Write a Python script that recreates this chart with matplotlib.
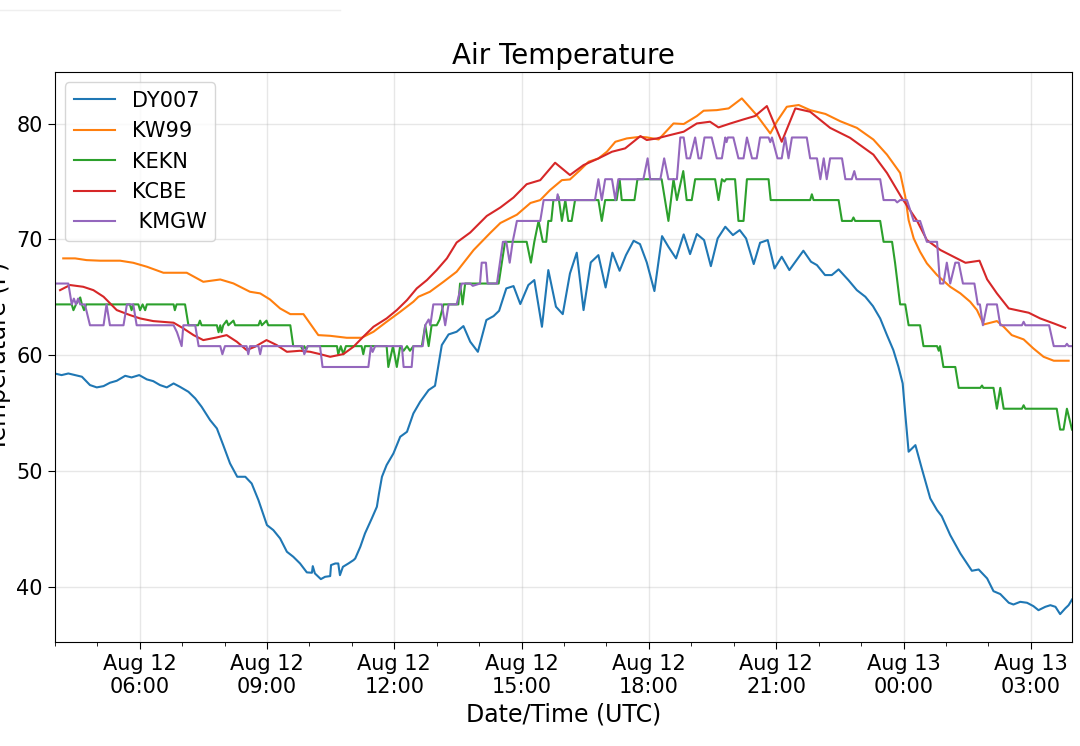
import matplotlib
matplotlib.use("Agg")
import matplotlib.pyplot as plt
import matplotlib.dates as mdates
from matplotlib.lines import Line2D
from datetime import datetime, timedelta

# ---- data: (hours since Aug 12 00:00 UTC, temperature F) ----
dy007 = [(4.00,58.44),(4.16,58.30),(4.32,58.44),(4.48,58.30),(4.64,58.16),(4.83,57.44),(4.99,57.24),(5.15,57.35),
         (5.30,57.64),(5.46,57.81),(5.66,58.24),(5.81,58.10),(5.99,58.30),(6.17,57.93),(6.32,57.78),(6.48,57.44),
         (6.64,57.24),(6.80,57.58),(6.95,57.29),(7.15,56.86),(7.31,56.29),(7.46,55.57),(7.66,54.42),(7.82,53.70),
         (7.97,52.26),(8.13,50.68),(8.30,49.53),(8.49,49.53),(8.64,48.95),(8.80,47.51),(9.00,45.36),(9.15,44.93),
         (9.31,44.21),(9.47,43.06),(9.62,42.63),(9.78,42.05),(9.94,41.28),(10.06,41.25),(10.08,41.82),(10.13,41.19),
         (10.27,40.70),(10.37,40.90),(10.49,40.96),(10.51,41.91),(10.61,42.05),(10.68,42.05),(10.72,41.04),(10.79,41.76),
         (10.92,42.05),(11.04,42.34),(11.08,42.48),(11.20,43.49),(11.31,44.64),(11.47,45.93),(11.59,46.94),(11.64,48.09),
         (11.71,49.53),(11.82,50.54),(11.98,51.54),(12.14,52.98),(12.30,53.41),(12.45,54.99),(12.61,56.00),(12.81,57.01),
         (12.96,57.38),(13.12,60.89),(13.28,61.81),(13.47,62.04),(13.63,62.53),(13.79,61.18),(13.97,60.31),(14.17,63.05),
         (14.34,63.39),(14.47,63.85),(14.64,65.78),(14.81,65.98),(14.97,64.43),(15.16,66.07),(15.30,66.50),(15.48,62.47),
         (15.63,67.36),(15.81,64.20),(15.97,63.56),(16.14,67.07),(16.30,68.86),(16.46,63.91),(16.63,68.02),(16.81,68.65),
         (16.98,65.86),(17.14,68.86),(17.31,67.30),(17.46,68.65),(17.64,69.89),(17.79,69.60),(17.95,68.02),(18.13,65.55),
         (18.31,70.29),(18.46,69.37),(18.64,68.37),(18.82,70.44),(18.97,68.74),(19.13,70.47),(19.30,69.95),(19.46,67.70),
         (19.62,70.09),(19.80,71.10),(19.98,70.38),(20.14,70.81),(20.29,70.09),(20.47,67.88),(20.62,69.72),(20.80,69.95),
         (20.96,67.50),(21.13,68.51),(21.31,67.36),(21.64,69.03),(21.82,68.08),(21.96,67.79),(22.15,66.93),(22.31,66.93),
         (22.47,67.42),(22.70,66.50),(22.90,65.63),(23.10,65.06),(23.28,64.25),(23.45,63.19),(23.61,61.75),(23.76,60.46),
         (23.88,59.02),(23.98,57.58),(24.04,54.99),(24.12,51.69),(24.28,52.26),(24.43,50.25),(24.63,47.66),(24.79,46.65),
         (24.90,46.13),(25.10,44.50),(25.34,42.91),(25.61,41.42),(25.77,41.53),(25.97,40.76),(26.12,39.66),(26.28,39.41),
         (26.48,38.66),(26.59,38.51),(26.75,38.74),(26.91,38.66),(27.06,38.37),(27.18,38.02),(27.34,38.31),(27.46,38.45),
         (27.58,38.31),(27.69,37.68),(27.81,38.17),(27.89,38.45),(27.97,38.94)]

kw99 = [(4.20,68.37),(4.48,68.37),(4.75,68.22),(5.07,68.17),(5.54,68.17),(5.85,67.99),(6.17,67.65),(6.56,67.13),
        (7.11,67.13),(7.50,66.35),(7.90,66.55),(8.21,66.21),(8.60,65.49),(8.84,65.35),(9.07,64.83),(9.31,64.05),
        (9.55,63.56),(9.86,63.56),(10.21,61.75),(10.49,61.69),(10.88,61.52),(11.23,61.52),(11.51,62.04),(11.82,62.90),
        (12.14,63.76),(12.45,64.63),(12.57,65.06),(12.84,65.49),(13.16,66.35),(13.47,67.22),(13.87,69.09),(14.26,70.56),
        (14.50,71.42),(14.89,72.14),(15.21,73.15),(15.44,73.40),(15.67,74.26),(15.95,75.12),(16.14,75.18),(16.38,75.99),
        (16.58,76.71),(16.81,76.99),(17.01,77.57),(17.21,78.43),(17.48,78.72),(17.80,78.86),(17.95,78.81),(18.23,78.63),
        (18.58,80.01),(18.82,79.96),(19.13,80.65),(19.29,81.11),(19.60,81.16),(19.88,81.31),(20.19,82.17),(20.54,80.73),
        (20.86,79.15),(21.02,80.20),(21.25,81.45),(21.53,81.60),(21.80,81.16),(22.16,80.83),(22.51,80.20),(22.90,79.63),
        (23.29,78.62),(23.61,77.32),(23.92,75.74),(24.04,73.72),(24.12,71.67),(24.24,70.09),(24.39,68.94),(24.55,67.94),
        (24.79,66.93),(25.10,65.92),(25.34,65.35),(25.57,64.63),(25.73,63.91),(25.89,62.67),(26.20,62.96),(26.36,62.47),
        (26.55,61.75),(26.83,61.38),(27.06,60.60),(27.30,59.88),(27.54,59.54),(27.89,59.54)]

kekn = [(4.01,64.4),(4.40,64.4),(4.44,63.9),(4.50,64.4),(4.60,65.0),(4.64,64.4),(4.69,63.9),(4.74,64.4),(5.77,64.4),
        (5.81,63.9),(5.85,64.4),(5.97,64.4),(6.01,63.9),(6.07,64.4),(6.13,63.9),(6.17,64.4),(6.80,64.4),(6.83,63.9),
        (6.87,64.4),(7.07,64.4),(7.15,62.6),(7.38,62.6),(7.42,63.0),(7.46,62.6),(7.82,62.6),(7.86,62.0),(7.90,62.6),
        (7.93,62.0),(7.97,62.6),(8.05,63.0),(8.09,62.6),(8.21,63.0),(8.25,62.6),(8.80,62.6),(8.84,63.0),(8.88,62.6),
        (8.99,63.0),(9.03,62.6),(9.55,62.6),(9.62,60.8),(9.80,60.8),(9.84,60.5),(9.88,60.8),(9.92,60.5),(9.96,60.8),
        (10.65,60.8),(10.68,60.1),(10.74,60.8),(10.80,60.1),(10.86,60.8),(11.23,60.8),(11.27,60.1),(11.31,60.8),
        (11.82,60.8),(11.86,59.0),(11.97,60.8),(12.06,59.0),(12.14,60.8),(12.22,60.4),(12.30,60.8),(12.37,60.4),
        (12.45,60.8),(12.65,60.8),(12.73,62.6),(12.81,60.8),(12.88,62.6),(13.00,62.6),(13.07,63.1),(13.16,64.4),
        (13.51,64.4),(13.55,66.2),(13.61,64.4),(13.67,66.2),(14.46,66.2),(14.61,69.8),(15.12,69.8),(15.22,68.0),
        (15.30,69.8),(15.40,71.6),(15.50,69.8),(15.58,69.8),(15.63,71.6),(15.70,71.6),(15.75,73.4),(15.83,73.4),
        (15.87,73.7),(15.95,71.6),(16.03,73.4),(16.10,71.6),(16.18,71.6),(16.26,73.4),(16.81,73.4),(16.89,71.6),
        (16.97,73.4),(17.24,73.4),(17.31,75.2),(17.36,73.4),(17.66,73.4),(17.73,75.2),(18.30,75.2),(18.46,71.6),
        (18.58,75.2),(18.66,73.4),(18.81,75.9),(18.89,73.4),(19.01,73.4),(19.09,75.2),(19.56,75.2),(19.64,73.4),
        (19.72,75.2),(19.78,75.0),(19.82,75.2),(20.03,75.2),(20.11,71.6),(20.23,71.6),(20.31,75.2),(20.82,75.2),
        (20.87,73.4),(21.80,73.4),(21.84,73.9),(21.88,73.4),(22.47,73.4),(22.55,71.6),(22.78,71.6),(22.82,71.9),
        (22.86,71.6),(23.45,71.6),(23.53,69.8),(23.73,69.8),(23.80,68.0),(23.86,66.2),(23.92,64.4),(24.04,64.4),
        (24.12,62.6),(24.39,62.6),(24.47,60.8),(24.79,60.8),(24.83,60.4),(24.86,60.8),(24.94,59.0),(25.22,59.0),
        (25.30,57.2),(25.81,57.2),(25.85,57.4),(25.88,57.2),(26.12,57.2),(26.20,55.4),(26.28,57.2),(26.36,55.4),
        (26.79,55.4),(26.83,55.7),(26.87,55.4),(27.61,55.4),(27.69,53.6),(27.77,53.6),(27.85,55.4),(27.97,53.6)]

kcbe = [(4.125,65.63),(4.36,66.07),(4.67,65.92),(4.91,65.63),(5.15,65.06),(5.46,63.91),(5.77,63.48),(6.01,63.19),
        (6.32,62.96),(6.80,62.82),(7.03,62.33),(7.27,61.75),(7.50,61.32),(7.82,61.55),(8.05,61.75),(8.29,61.18),
        (8.52,60.46),(8.72,60.75),(8.99,61.32),(9.23,60.89),(9.47,60.31),(9.78,60.40),(10.02,60.31),(10.25,60.11),
        (10.49,59.88),(10.80,60.11),(11.04,60.75),(11.27,61.61),(11.51,62.47),(11.82,63.19),(12.06,63.91),(12.30,64.77),
        (12.53,65.78),(12.77,66.50),(13.00,67.36),(13.24,68.37),(13.47,69.74),(13.79,70.60),(14.18,72.03),(14.50,72.76),
        (14.81,73.62),(15.12,74.77),(15.44,75.12),(15.79,76.62),(16.14,75.56),(16.46,76.42),(16.81,76.99),(17.13,77.57),
        (17.44,77.86),(17.80,78.92),(17.95,78.58),(18.19,78.72),(18.50,79.01),(18.82,79.30),(19.13,80.01),(19.44,80.16),
        (19.64,79.67),(19.92,80.01),(20.23,80.36),(20.50,80.65),(20.78,81.51),(21.13,78.43),(21.45,81.31),(21.80,81.02),
        (22.27,79.63),(22.74,78.77),(23.29,77.32),(23.61,75.74),(23.96,73.58),(24.31,71.67),(24.55,69.95),(24.87,69.09),
        (25.18,68.51),(25.46,67.99),(25.79,68.17),(25.97,66.56),(26.20,65.35),(26.48,64.05),(26.95,63.68),(27.22,63.19),
        (27.54,62.76),(27.81,62.38)]

kmgw = [(4.01,66.2),(4.32,66.2),(4.40,64.4),(4.45,64.9),(4.50,64.4),(4.55,64.9),(4.60,64.4),(4.71,64.4),(4.83,62.6),
        (5.15,62.6),(5.22,64.4),(5.30,62.6),(5.62,62.6),(5.70,64.4),(5.85,64.4),(5.93,62.6),(6.80,62.6),(6.88,62.0),
        (6.99,60.8),(7.03,62.6),(7.31,62.6),(7.39,60.8),(7.90,60.8),(7.95,60.1),(8.01,60.8),(8.52,60.8),(8.56,60.1),
        (8.60,60.8),(8.80,60.8),(8.84,60.1),(8.88,60.8),(9.84,60.8),(9.88,60.1),(9.96,60.8),(10.25,60.8),(10.31,59.0),
        (11.39,59.0),(11.45,60.8),(11.49,60.3),(11.55,60.8),(12.18,60.8),(12.22,59.0),(12.41,59.0),(12.45,60.8),
        (12.67,60.8),(12.73,62.6),(12.81,63.1),(12.85,62.6),(12.92,64.4),(13.12,64.4),(13.20,62.6),(13.28,64.4),
        (13.47,64.4),(13.59,66.2),(13.79,66.2),(13.85,66.0),(14.02,66.2),(14.06,68.0),(14.16,68.0),(14.20,66.2),
        (14.42,66.2),(14.56,69.8),(14.64,69.8),(14.72,68.0),(14.79,69.8),(14.89,71.6),(15.44,71.6),(15.52,73.4),
        (15.83,73.4),(15.85,73.9),(15.88,73.4),(16.73,73.4),(16.81,75.2),(16.89,73.4),(16.97,75.2),(17.13,75.2),
        (17.21,73.4),(17.28,75.2),(17.87,75.2),(17.97,77.0),(18.03,75.2),(18.27,75.2),(18.36,77.0),(18.46,75.2),
        (18.66,75.2),(18.74,78.8),(18.82,78.8),(18.89,77.0),(18.97,77.0),(19.09,78.8),(19.17,77.0),(19.23,77.0),
        (19.31,78.8),(19.48,78.8),(19.60,77.0),(19.72,77.0),(19.80,78.8),(19.83,78.4),(19.86,78.8),(19.99,78.8),
        (20.11,77.0),(20.23,77.0),(20.31,78.8),(20.43,77.0),(20.54,77.0),(20.62,78.8),(20.82,78.8),(20.86,78.4),
        (20.90,78.8),(21.03,77.0),(21.13,77.0),(21.21,78.8),(21.29,77.0),(21.37,78.8),(21.72,78.8),(21.80,77.0),
        (21.96,77.0),(22.04,75.2),(22.12,77.0),(22.19,75.2),(22.27,77.0),(22.55,77.0),(22.63,75.2),(22.78,75.2),
        (22.84,75.9),(22.89,75.2),(23.45,75.2),(23.53,73.4),(23.80,73.4),(23.85,73.2),(23.92,73.4),(24.08,73.4),
        (24.24,71.6),(24.39,71.6),(24.55,69.8),(24.79,69.8),(24.86,66.2),(24.94,66.2),(25.02,68.0),(25.10,66.2),
        (25.22,68.0),(25.30,68.0),(25.40,66.2),(25.67,66.2),(25.75,64.4),(25.80,64.4),(25.87,62.6),(25.97,64.4),
        (26.20,64.4),(26.28,62.6),(26.79,62.6),(26.83,62.9),(26.87,62.6),(27.43,62.6),(27.54,60.8),(27.81,60.8),
        (27.85,61.0),(27.89,60.8),(27.97,60.8)]

station_names = ["DY007", "KW99", "KEKN", "KCBE", " KMGW"]
station_data = [dy007, kw99, kekn, kcbe, kmgw]
station_colors = ["#1f77b4", "#ff7f0e", "#2ca02c", "#d62728", "#9467bd"]

title = "Air Temperature"
xlabel = "Date/Time (UTC)"
ylabel = "Temperature (F)"
y_ticks = [40, 50, 60, 70, 80]

base = datetime(2019, 8, 12, 0, 0)


def to_dt(hours):
    return [base + timedelta(hours=h) for h in hours]


fig = plt.figure(figsize=(10.8, 7.46), dpi=100)
ax = fig.add_axes([0.0507, 0.1398, 0.9419, 0.7637])

for name, series, color in zip(station_names, station_data, station_colors):
    hrs, temps = zip(*series)
    ax.plot(to_dt(hrs), temps, color=color, linewidth=1.5, label=name)

ax.set_xlim(base + timedelta(hours=4.0), base + timedelta(hours=27.97))
ax.set_ylim(35.3, 84.45)
ax.set_yticks(y_ticks)

ax.xaxis.set_major_locator(mdates.HourLocator(byhour=[0, 3, 6, 9, 12, 15, 18, 21]))
ax.xaxis.set_minor_locator(mdates.HourLocator())
ax.xaxis.set_major_formatter(mdates.DateFormatter("%b %d\n%H:%M"))
for lbl in ax.get_xticklabels():
    lbl.set_ha("center")

ax.tick_params(axis="both", which="major", labelsize=15, length=5)
ax.tick_params(axis="x", which="minor", length=3)
ax.grid(True, which="major", color="#b0b0b0", alpha=0.3, linewidth=1.0)
ax.set_axisbelow(True)

ax.set_title(title, fontsize=20)
ax.set_xlabel(xlabel, fontsize=17)
ax.set_ylabel(ylabel, fontsize=17)

ax.legend(loc="upper left", fontsize=15)

# faint line at top-left of the screenshot
fig.add_artist(Line2D([0.0, 0.315], [0.987, 0.987], color="#efefef", linewidth=1.0,
                      transform=fig.transFigure))

fig.savefig("out.png", dpi=100)
